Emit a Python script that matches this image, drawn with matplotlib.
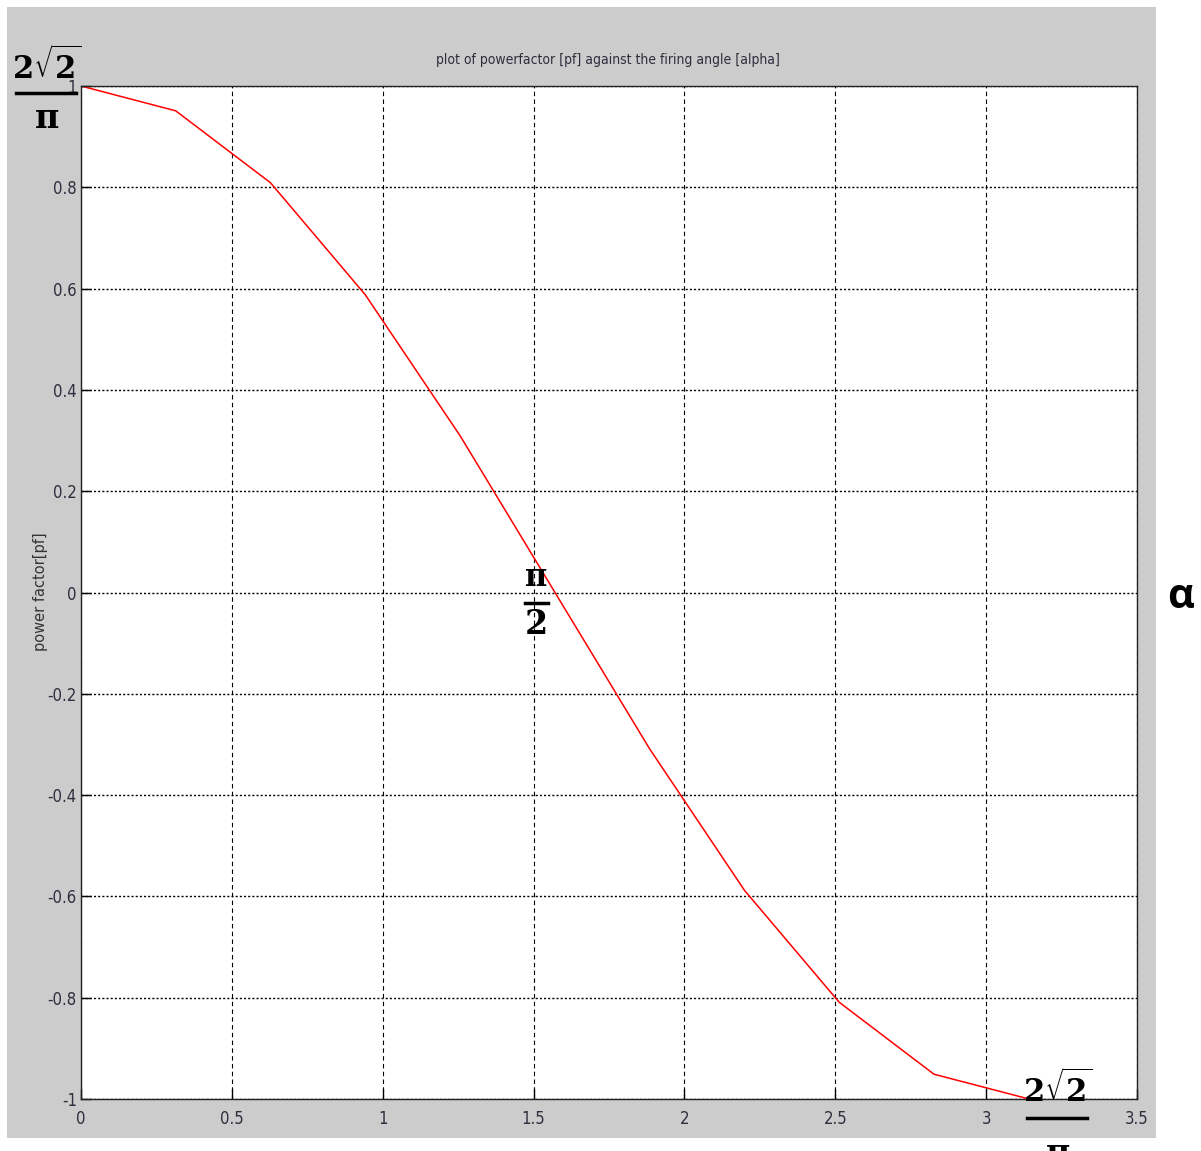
import matplotlib.pyplot as plt
from matplotlib.patches import Rectangle
from matplotlib.lines import Line2D

# firing angle alpha (rad) and power factor
alpha = [0.0, 0.314, 0.628, 0.942, 1.257, 1.571, 1.885, 2.199, 2.513, 2.827, 3.142]
pf = [1.0, 0.951, 0.809, 0.588, 0.309, 0.0, -0.309, -0.588, -0.809, -0.951, -1.0]

xticks = [0, 0.5, 1, 1.5, 2, 2.5, 3, 3.5]
xlabels = ['0', '0.5', '1', '1.5', '2', '2.5', '3', '3.5']
yticks = [-1, -0.8, -0.6, -0.4, -0.2, 0, 0.2, 0.4, 0.6, 0.8, 1]
ylabels = ['-1', '-0.8', '-0.6', '-0.4', '-0.2', '0', '0.2', '0.4', '0.6', '0.8', '1']

W, H = 1201, 1151
fig = plt.figure(figsize=(W / 100, H / 100), dpi=100)
fig.patch.set_facecolor('white')

narrow = dict(family='DejaVu Sans', fontstretch='condensed')

# grey matlab window background
fig.patches.append(Rectangle((7 / W, 1 - 1138 / H), (1156 - 7) / W, (1138 - 7) / H,
                             transform=fig.transFigure, facecolor='#cccccc',
                             edgecolor='none', zorder=-10))

ax = fig.add_axes([81 / W, 1 - 1099 / H, (1137 - 81) / W, (1099 - 86) / H])
ax.set_zorder(1)
ax.set_facecolor('white')
ax.plot(alpha, pf, color='red', linewidth=1.1)
ax.set_xlim(0, 3.5)
ax.set_ylim(-1, 1)
ax.set_xticks(xticks)
ax.set_xticklabels(xlabels, fontsize=12, color='#2e2e3e', **narrow)
ax.set_yticks(yticks)
ax.set_yticklabels(ylabels, fontsize=12, color='#2e2e3e', **narrow)
ax.tick_params(direction='in', length=7, width=1)
ax.tick_params(axis='x', pad=8)
ax.tick_params(axis='y', pad=3)
ax.xaxis.grid(True, color='black', linestyle=(0, (4, 3)), linewidth=0.8)
ax.yaxis.grid(True, color='black', linestyle=(0, (1.5, 1.5)), linewidth=1.0)
for s in ax.spines.values():
    s.set_linewidth(1.0)
    s.set_color('#222222')

fig.text(608 / W, 1 - 60 / H, 'plot of powerfactor [pf] against the firing angle [alpha]',
         fontsize=10, color='#2e2e3e', ha='center', va='center', **narrow)
fig.text(40 / W, 1 - 592 / H, 'power factor[pf]', fontsize=10.5, color='#333333',
         rotation=90, ha='center', va='center', family='DejaVu Sans')

plt.rcParams['mathtext.fontset'] = 'dejavuserif'


def frac(xc, y_num, y_bar, y_den, x0, x1, num, den, den_va='center'):
    fig.text(xc / W, 1 - y_num / H, num, fontsize=22, fontweight='bold',
             family='DejaVu Serif', ha='center', va='center', zorder=5)
    fig.lines.append(Line2D([x0 / W, x1 / W], [1 - y_bar / H, 1 - y_bar / H],
                            transform=fig.transFigure, color='black', linewidth=2.5,
                            zorder=5))
    fig.text(xc / W, 1 - y_den / H, den, fontsize=24, fontweight='bold',
             family='DejaVu Serif', ha='center', va=den_va, zorder=5)


root = r'$\mathbf{2}\sqrt{\mathbf{2}}$'
frac(47, 66, 93, 118, 16, 76, root, 'π')
frac(536, 578, 603, 625, 525, 548, 'π', '2')
frac(1058, 1089, 1118, 1137, 1027, 1087, root, 'π', den_va='top')

fig.text(1181 / W, 1 - 598 / H, 'α', fontsize=30, fontweight='bold',
         family='Open Sans', ha='center', va='center')

fig.savefig('out.png', dpi=100)
